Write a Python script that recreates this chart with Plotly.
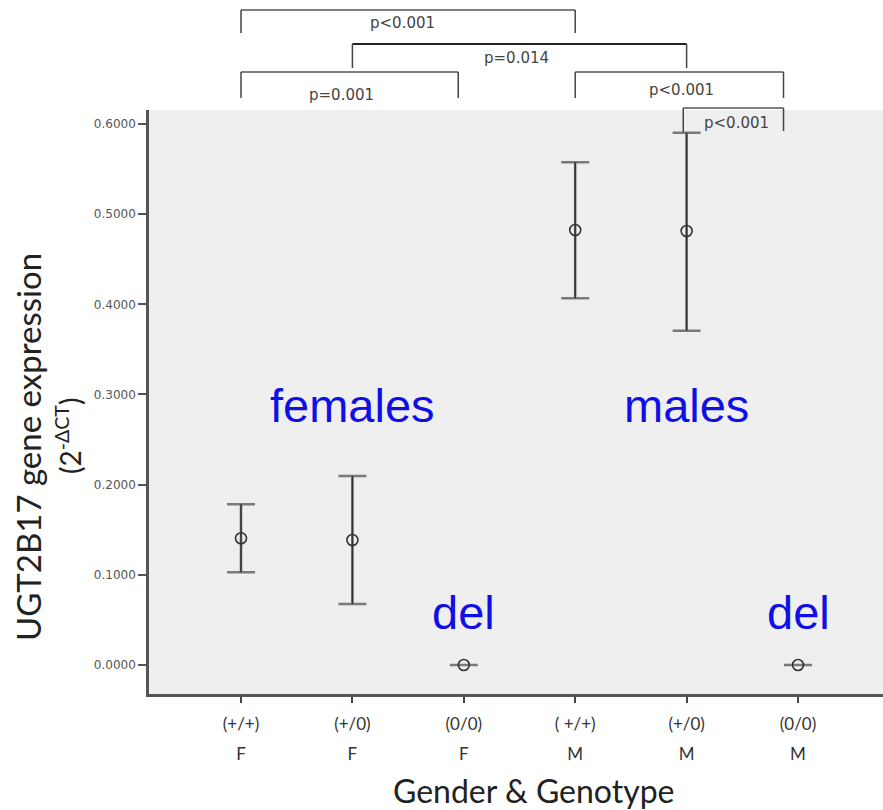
import plotly.graph_objects as go

# ---- data ----
genotypes = ["(+/+)", "(+/0)", "(0/0)", "( +/+)", "(+/0)", "(0/0)"]
genders = ["F", "F", "F", "M", "M", "M"]
means = [0.1405, 0.1386, 0.0, 0.4824, 0.4813, 0.0]
upper = [0.1782, 0.2096, 0.0, 0.5575, 0.5903, 0.0]
lower = [0.1028, 0.0676, 0.0, 0.4067, 0.3707, 0.0]
y_ticks = [0.0, 0.1, 0.2, 0.3, 0.4, 0.5, 0.6]

# brackets: (left category, right category, top px, left-end px, right-end px, label, label x, label y px)
brackets = [
    (0.0, 3.0, 10, 33, 33, "p<0.001", 1.45, 23),
    (1.0, 4.0, 44, 68, 68, "p=0.014", 2.47, 58),
    (0.0, 1.95, 72, 98, 98, "p=0.001", 0.9, 95),
    (3.0, 4.87, 72, 98, 98, "p<0.001", 3.95, 90),
    (3.97, 4.87, 108, 132, 131, "p<0.001", 4.45, 123),
]

x = list(range(len(genotypes)))
err_plus = [u - m for u, m in zip(upper, means)]
err_minus = [m - l for m, l in zip(means, lower)]

W, H = 883, 810
L, R, T, B = 149, 0, 110, 116
PH = H - T - B
PW = W - L - R


def py(p):
    return (H - B - p) / PH


def px(p):
    return (p - L) / PW


fig = go.Figure()
# caps (grey, thicker)
fig.add_trace(go.Scatter(
    x=x, y=means, mode="markers", marker=dict(size=1, color="rgba(0,0,0,0)"),
    error_y=dict(type="data", symmetric=False, array=err_plus, arrayminus=err_minus,
                 color="#7a7a7a", thickness=2.6, width=14),
    hoverinfo="skip", showlegend=False))
# stems + markers
fig.add_trace(go.Scatter(
    x=x, y=means, mode="markers",
    marker=dict(symbol="circle-open", size=11, color="#333333", line=dict(width=1.6, color="#333333")),
    error_y=dict(type="data", symmetric=False, array=err_plus, arrayminus=err_minus,
                 color="#333333", thickness=1.5, width=0),
    showlegend=False))

shapes = []
annotations = []
for (xl, xr, top, le, re, lab, lx, ly) in brackets:
    col = "#222222" if lab == "p=0.014" else "#555555"
    wdt = 2 if lab == "p=0.014" else 1.5
    shapes.append(dict(type="line", xref="x", yref="paper", x0=xl, x1=xr, y0=py(top), y1=py(top),
                       line=dict(color=col, width=wdt)))
    shapes.append(dict(type="line", xref="x", yref="paper", x0=xl, x1=xl, y0=py(top), y1=py(le),
                       line=dict(color="#444444", width=1.5)))
    shapes.append(dict(type="line", xref="x", yref="paper", x0=xr, x1=xr, y0=py(top), y1=py(re),
                       line=dict(color="#444444", width=1.5)))
    annotations.append(dict(xref="x", yref="paper", x=lx, y=py(ly), text=lab, showarrow=False,
                            font=dict(family="DejaVu Sans", size=15, color="#444444"),
                            xanchor="center", yanchor="middle"))

blue = "#1010e6"
for txt, cx, cy in [("females", 1, 0.288), ("males", 4, 0.288), ("del", 2, 0.0577), ("del", 5, 0.0577)]:
    annotations.append(dict(xref="x", yref="y", x=cx, y=cy, text=txt, showarrow=False,
                            font=dict(family="Liberation Sans", size=47, color=blue),
                            xanchor="center", yanchor="middle"))

# axis titles
annotations.append(dict(xref="paper", yref="paper", x=px(534), y=py(790), text="Gender &amp; Genotype",
                        showarrow=False, font=dict(family="Lato", size=32, color="#222222"),
                        xanchor="center", yanchor="middle"))
annotations.append(dict(xref="paper", yref="paper", x=px(28), y=py(447), text="UGT2B17 gene expression",
                        showarrow=False, textangle=-90, font=dict(family="Lato", size=33, color="#222222"),
                        xanchor="center", yanchor="middle"))
annotations.append(dict(xref="paper", yref="paper", x=px(68), y=py(436), text="(2<sup>-ΔCT</sup>)",
                        showarrow=False, textangle=-90, font=dict(family="Lato", size=28, color="#222222"),
                        xanchor="center", yanchor="middle"))

ticktext = ["<span style='font-size:17px'>%s</span><br><span style='font-size:17px'>%s</span>" % (g, s)
            for g, s in zip(genotypes, genders)]

fig.update_layout(
    width=W, height=H, margin=dict(l=L, r=R, t=T, b=B),
    paper_bgcolor="white", plot_bgcolor="#efefef",
    shapes=shapes, annotations=annotations,
    xaxis=dict(range=[-0.826, 5.763], tickmode="array", tickvals=x, ticktext=ticktext,
               tickfont=dict(family="Lato", size=23, color="#333333"),
               ticks="outside", ticklen=6, tickwidth=1.5, tickcolor="#444444",
               showline=True, linecolor="#555555", linewidth=2.5, showgrid=False, zeroline=False,
               fixedrange=True),
    yaxis=dict(range=[-0.0322, 0.6155], tickmode="array", tickvals=y_ticks, tickformat=".4f",
               tickfont=dict(family="DejaVu Sans", size=12, color="#555555"),
               ticks="outside", ticklen=8, tickwidth=1.5, tickcolor="#555555",
               showline=True, linecolor="#555555", linewidth=2.5, showgrid=False, zeroline=False,
               fixedrange=True),
    showlegend=False,
)

fig.write_html("out.html")
